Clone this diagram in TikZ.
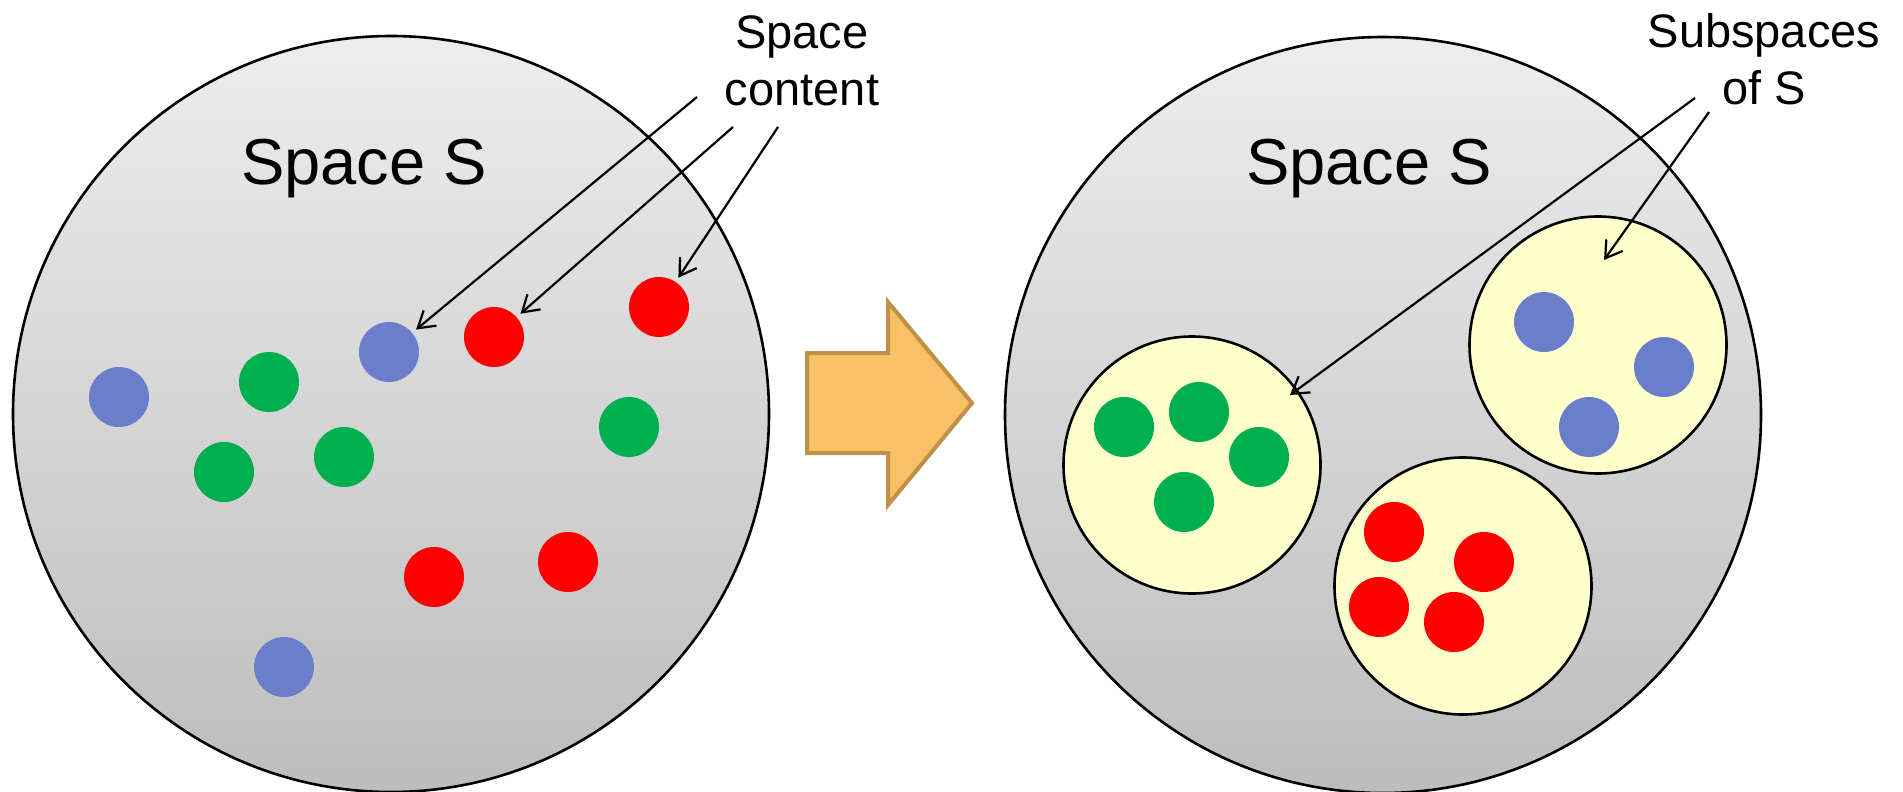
\documentclass[tikz,border=0pt]{standalone}
\usepackage{fontspec}
\setmainfont{Liberation Sans}
\usetikzlibrary{arrows.meta}
\definecolor{dotblue}{HTML}{6A7ECB}
\definecolor{dotgreen}{HTML}{00AF50}
\definecolor{dotred}{HTML}{FF0000}
\definecolor{subfill}{HTML}{FFFFCC}
\definecolor{arrfill}{HTML}{F8C166}
\definecolor{arrdraw}{HTML}{BF9049}
\begin{document}
\begin{tikzpicture}[x=1pt,y=-1pt,
  bigspace/.style={circle,draw=black,line width=2.6pt,top color=black!7,bottom color=black!26,minimum size=756pt,inner sep=0pt},
  subspace/.style={circle,draw=black,line width=2.6pt,fill=subfill,minimum size=257pt,inner sep=0pt},
  ball/.style={circle,minimum size=60pt,inner sep=0pt,fill=#1},
  pointer/.style={-{Straight Barb[length=16pt,width=20pt,line width=2.2pt]},line width=2.2pt},
  headline/.style={font=\fontsize{65}{78}\selectfont,inner sep=0pt,anchor=base},
  note/.style={font=\fontsize{47}{57}\selectfont,align=center,inner sep=0pt,anchor=base}
]
\useasboundingbox (0,0) rectangle (1903,792);

% left space
\node[bigspace] (L) at (391,414) {};
\node[headline] (Lt) at (364,184) {Space S};
\node[ball=dotblue]  (b1) at (119,397) {};
\node[ball=dotgreen] (g1) at (269,382) {};
\node[ball=dotblue]  (b2) at (389,352) {};
\node[ball=dotred]   (r1) at (494,337) {};
\node[ball=dotred]   (r2) at (659,307) {};
\node[ball=dotgreen] (g2) at (224,472) {};
\node[ball=dotgreen] (g3) at (344,457) {};
\node[ball=dotgreen] (g4) at (629,427) {};
\node[ball=dotred]   (r3) at (434,577) {};
\node[ball=dotred]   (r4) at (568,562) {};
\node[ball=dotblue]  (b3) at (284,667) {};

\node[note] (sc) at (802,105) {Space\\content};
\coordinate (s1) at (697,97);
\coordinate (s2) at (733,127);
\coordinate (s3) at (778,127);
\draw[pointer,shorten >=5pt] (s1) -- (b2);
\draw[pointer,shorten >=5pt] (s2) -- (r1);
\draw[pointer,shorten >=5pt] (s3) -- (r2);

% transition arrow
\draw[fill=arrfill,draw=arrdraw,line width=4pt,line join=miter]
  (807,353) -- (888,353) -- (888,302) -- (972,403) -- (888,505) -- (888,453) -- (807,453) -- cycle;

% right space
\node[bigspace] (R) at (1383,415) {};
\node[headline] (Rt) at (1369,184) {Space S};
\node[subspace] (SG) at (1192,465) {};
\node[subspace] (SB) at (1598,345) {};
\node[subspace] (SR) at (1463,586) {};
\node[ball=dotgreen] (G1) at (1124,427) {};
\node[ball=dotgreen] (G2) at (1199,412) {};
\node[ball=dotgreen] (G3) at (1259,457) {};
\node[ball=dotgreen] (G4) at (1184,502) {};
\node[ball=dotblue]  (B1) at (1544,322) {};
\node[ball=dotblue]  (B2) at (1664,367) {};
\node[ball=dotblue]  (B3) at (1589,427) {};
\node[ball=dotred]   (R1) at (1394,532) {};
\node[ball=dotred]   (R2) at (1484,562) {};
\node[ball=dotred]   (R3) at (1379,607) {};
\node[ball=dotred]   (R4) at (1454,622) {};

\node[note] (ss) at (1764,104) {Subspaces\\of S};
\coordinate (t1) at (1695,98);
\coordinate (t2) at (1709,112);
\coordinate (e1) at (1290,395);
\coordinate (e2) at (1604,260);
\draw[pointer] (t1) -- (e1);
\draw[pointer] (t2) -- (e2);
\end{tikzpicture}
\end{document}
